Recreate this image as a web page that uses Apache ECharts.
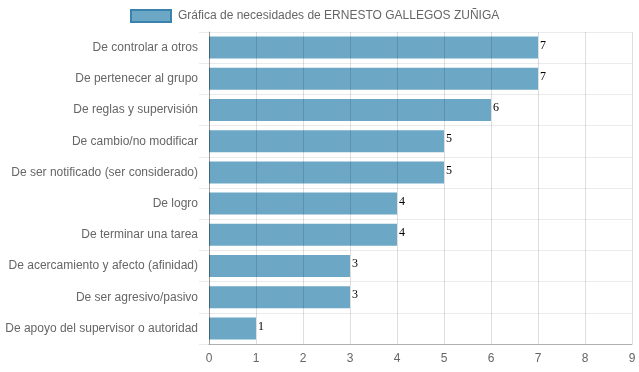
<!DOCTYPE html>
<html>
<head>
<meta charset="utf-8">
<script src="https://cdn.jsdelivr.net/npm/echarts@6/dist/echarts.min.js"></script>
<style>html,body{margin:0;padding:0;background:#fff;}#c{width:639px;height:372px;}</style>
</head>
<body>
<div id="c"></div>
<script>
const categories = [
  "De controlar a otros",
  "De pertenecer al grupo",
  "De reglas y supervisión",
  "De cambio/no modificar",
  "De ser notificado (ser considerado)",
  "De logro",
  "De terminar una tarea",
  "De acercamiento y afecto (afinidad)",
  "De ser agresivo/pasivo",
  "De apoyo del supervisor o autoridad"
];
const values = [7, 7, 6, 5, 5, 4, 4, 3, 3, 1];
const seriesName = "Gráfica de necesidades de ERNESTO GALLEGOS ZUÑIGA";
const xTicks = { min: 0, max: 9, interval: 1 };

const chart = echarts.init(document.getElementById('c'), null, { renderer: 'canvas' });
chart.setOption({
  animation: false,
  textStyle: { fontFamily: 'Liberation Sans, Arial, sans-serif' },
  legend: {
    top: 4,
    left: 125,
    itemWidth: 40,
    itemHeight: 12,
    itemGap: 10,
    textStyle: { color: '#666', fontSize: 12, fontFamily: 'Liberation Sans, Arial, sans-serif', padding: [0, 0, 0, 2] },
    data: [{ name: seriesName, icon: 'rect', itemStyle: { color: '#6ca7c5', borderColor: '#3a83ad', borderWidth: 2 } }]
  },
  grid: { left: 209, right: 7, top: 32, bottom: 28, containLabel: false },
  xAxis: {
    type: 'value',
    min: xTicks.min, max: xTicks.max, interval: xTicks.interval,
    z: 5,
    axisLine: { show: true, lineStyle: { color: 'rgba(0,0,0,0.25)', width: 1 } },
    axisTick: { show: false },
    axisLabel: { color: '#666', fontSize: 12, margin: 9 },
    splitLine: { show: true, lineStyle: { color: 'rgba(0,0,0,0.13)', width: 1 } }
  },
  yAxis: {
    type: 'category',
    inverse: true,
    data: categories,
    z: 5,
    axisLine: { show: true, lineStyle: { color: 'rgba(0,0,0,0.3)', width: 1 } },
    axisTick: { show: true, length: 10, lineStyle: { color: 'rgba(0,0,0,0.08)' } },
    axisLabel: { color: '#666', fontSize: 12, margin: 11 },
    splitLine: { show: true, lineStyle: { color: 'rgba(0,0,0,0.08)', width: 1 } }
  },
  series: [{
    name: seriesName,
    type: 'bar',
    data: values,
    barWidth: 22,
    itemStyle: { color: '#6ca7c5' },
    label: {
      show: true,
      position: 'right',
      distance: 2,
      color: '#000',
      fontSize: 12,
      fontFamily: 'Liberation Serif, Times New Roman, serif',
      offset: [0, -2]
    }
  }]
});
</script>
</body>
</html>
